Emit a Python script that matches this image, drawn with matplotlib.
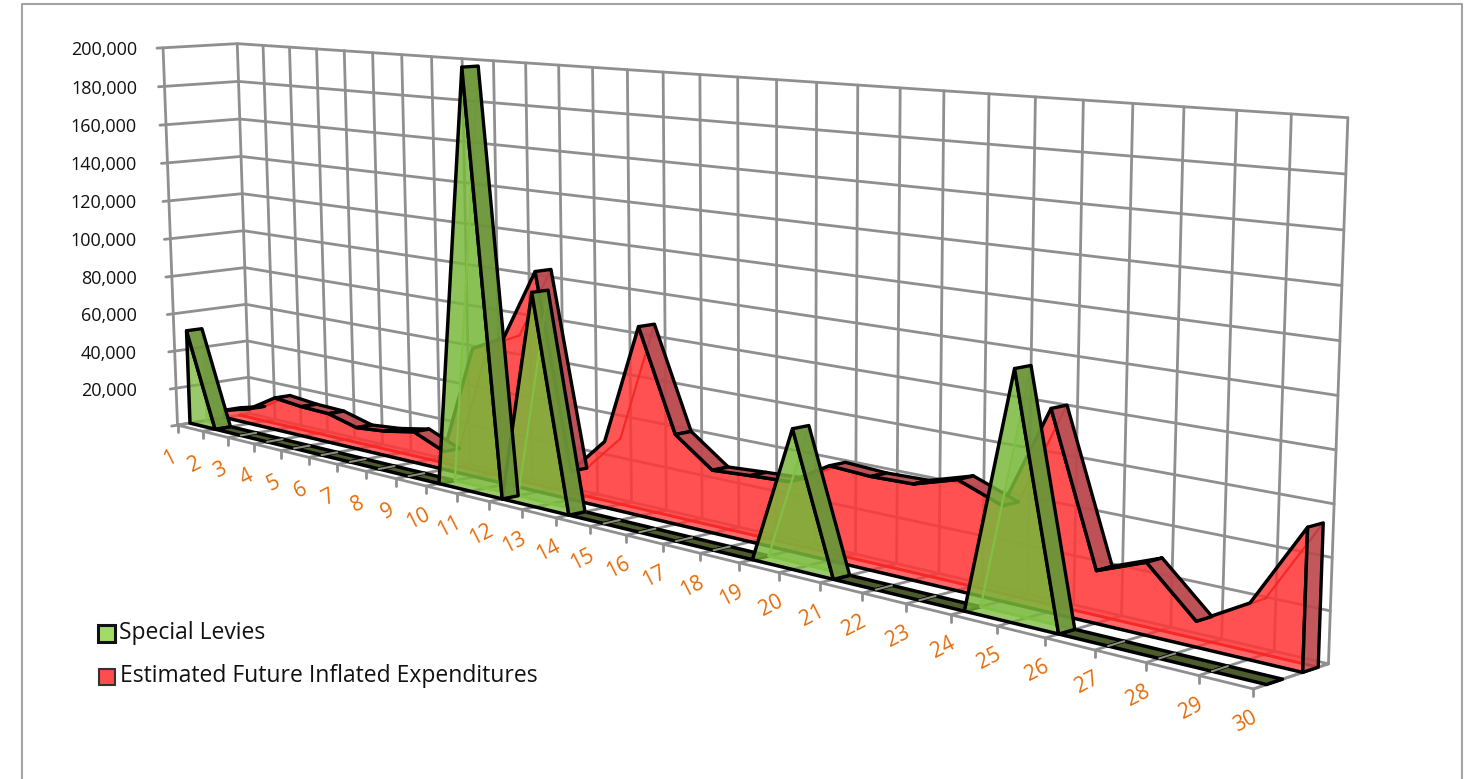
import numpy as np
from matplotlib import pyplot as plt
from matplotlib.colors import to_rgba
from matplotlib.patches import Polygon, Rectangle

categories = list(range(1, 31))
y_ticks = [20000, 40000, 60000, 80000, 100000, 120000, 140000, 160000, 180000, 200000]
y_max = 200000

special_levies = [50000, 0, 0, 0, 0, 0, 0, 0, 0, 0,
                  200000, 0, 100000, 0, 0, 0, 0, 0, 0, 60000,
                  0, 0, 0, 0, 100000, 0, 0, 0, 0, 0]
expenditures = [4000, 8000, 17000, 15500, 15000, 11000, 12500, 15500, 9000, 63000,
                71000, 105000, 13500, 31000, 87000, 41000, 28300, 29500, 30500, 41000,
                40000, 40500, 46000, 39000, 81500, 21000, 28500, 10000, 21500, 54000]

# (u along categories, v into the page, w up) -> pixel, used to fit the 3D view
view_points = [
    (0, 0, 0, 178, 425), (0, 0, 1, 163, 47), (0, 1, 1, 237, 44), (0, 1, 0.1, 248, 377),
    (1, 1, 1, 1347, 117), (1, 1, 0, 1329, 663), (1, 0, 0, 1253, 690),
    (13 / 29, 0, 0, 556, 518), (25 / 29, 0, 0, 1045, 638),
    (1 / 29, 1, 1, 263, 46), (13 / 29, 1, 1, 628, 70), (28 / 29, 1, 1, 1292, 114),
]

rows = []
for u, v, w, px, py in view_points:
    rows.append([u, v, w, 1, 0, 0, 0, 0, -px * u, -px * v, -px * w, -px])
    rows.append([0, 0, 0, 0, u, v, w, 1, -py * u, -py * v, -py * w, -py])
cam = np.linalg.svd(np.array(rows, dtype=float))[2][-1].reshape(3, 4)


def project(u, v, w):
    h = cam @ np.array([u, v, w, 1.0])
    return h[0] / h[2], h[1] / h[2]


fig = plt.figure(figsize=(14.74, 7.79), dpi=100)
ax = fig.add_axes([0, 0, 1, 1])
ax.set_xlim(0, 1474)
ax.set_ylim(779, 0)
ax.axis("off")

plt.rcParams["font.family"] = ["Open Sans", "DejaVu Sans"]
z = [1]


def next_z():
    z[0] += 1
    return z[0]


def line(pts, color, lw):
    xs, ys = zip(*pts)
    ax.plot(xs, ys, color=color, lw=lw, zorder=next_z(), solid_capstyle="round", solid_joinstyle="round")


def poly(pts, fc, alpha=1.0, ec="none", lw=0):
    ax.add_patch(Polygon(pts, closed=True, fc=to_rgba(fc, alpha), ec=ec, lw=lw, joinstyle="round", zorder=next_z()))


GRID = "#8f8f8f"
GRID_LW = 2.0
n = len(categories)
us = [i / (n - 1) for i in range(n)]

# chart frame
line([(22, 779), (22, 4), (1462, 4), (1462, 779)], "#a3a3a3", 1.5)

# back wall, side wall and floor grid
for t in [0] + y_ticks:
    w = t / y_max
    line([project(0, -0.08, w), project(0, 1, w), project(1, 1, w)], GRID, GRID_LW)
for u in us:
    line([project(u, 1, 0), project(u, 1, 1)], GRID, GRID_LW)
    line([project(u, 0, 0), project(u, 1, 0)], GRID, GRID_LW)
    x0, y0 = project(u, 0, 0)
    line([(x0, y0), (x0, y0 + 7)], GRID, GRID_LW)
line([project(0, 0, 0), project(0, 0, 1)], GRID, GRID_LW)
line([project(0, 0, 0), project(1, 0, 0)], GRID, GRID_LW)
line([project(1, 0, 0), project(1, 1, 0)], GRID, GRID_LW)


def draw_series(values, v0, v1, face, ribbon, floor, inner):
    ws = [val / y_max for val in values]
    front = [project(u, v0, w) for u, w in zip(us, ws)]
    back = [project(u, v1, w) for u, w in zip(us, ws)]
    front_base = [project(u, v0, 0) for u in us]
    back_base = [project(u, v1, 0) for u in us]

    # runs of segments with some height, the rest lies flat on the floor
    spans = []
    flat = []
    for i in range(n - 1):
        if values[i] == 0 and values[i + 1] == 0:
            flat.append(i)
        elif spans and spans[-1][-1] == i:
            spans[-1].append(i + 1)
        else:
            spans.append([i, i + 1])

    for i in flat:
        poly([front[i], front[i + 1], back[i + 1], back[i]], floor, 1.0, ec="black", lw=2.5)
    for i in flat:
        line([front[i], back[i]], "#8b8f80", 1.5)

    for span in spans:
        fr = [front[i] for i in span]
        bk = [back[i] for i in span]
        fb = [front_base[i] for i in span]
        bb = [back_base[i] for i in span]
        visible = []

        # surfaces seen through the front face
        poly(bk + bb[::-1], face, 0.45)
        for k in range(len(span) - 1):
            quad = [fr[k], fr[k + 1], bk[k + 1], bk[k]]
            xs, ys = zip(*quad)
            area = 0.5 * sum(xs[j] * ys[(j + 1) % 4] - xs[(j + 1) % 4] * ys[j] for j in range(4))
            if area < 0:
                visible.append(quad)
            else:
                poly(quad, face, 0.35)
                line([bk[k], bk[k + 1]], inner, 1.6)
        line([bb[0], bb[-1]], inner, 2.2)

        poly(fr + fb[::-1], face, 0.75, ec="black", lw=2.5)

        for quad in visible:
            poly(quad, ribbon, 0.92, ec="black", lw=2.4)

    if values[-1] > 0:
        poly([front[-1], back[-1], back_base[-1], front_base[-1]], ribbon, 0.85, ec="black", lw=2.4)


draw_series(expenditures, 0.65, 0.86, "#ff3636", "#b84a50", "#7a3a3a", "#e00000")
draw_series(special_levies, 0.17, 0.38, "#78b83a", "#6b9438", "#4c5c2c", "#9ad85c")

# y axis labels
for t in y_ticks:
    x0, y0 = project(0, 0, t / y_max)
    ax.text(137, y0 + 2.5, f"{t:,}", ha="right", va="center", fontsize=13, color="#111111", zorder=next_z())

# category labels
for u, cat in zip(us, categories):
    x0, y0 = project(u, 0, 0)
    ax.text(x0 - 8, y0 + 33, str(cat), ha="center", va="center", rotation=27, rotation_mode="anchor",
            fontsize=15, color="#e46c0a", zorder=next_z())

# legend
ax.add_patch(Rectangle((98.5, 625), 17, 17, fc="#a2dc64", ec="#111111", lw=2.2, zorder=next_z()))
ax.text(119, 633, "Special Levies", ha="left", va="center", fontsize=16.5, color="#111111", zorder=next_z())
ax.add_patch(Rectangle((99.5, 669), 16, 16, fc="#ff4c4c", ec="#333333", lw=1.5, zorder=next_z()))
ax.text(120, 676, "Estimated Future Inflated Expenditures", ha="left", va="center", fontsize=16.5, color="#111111",
        zorder=next_z())

fig.savefig("out.png", dpi=100)
